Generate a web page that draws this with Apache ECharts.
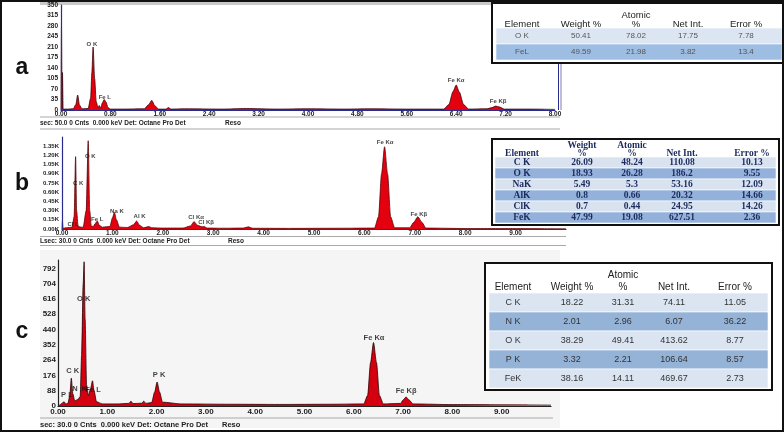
<!DOCTYPE html>
<html><head><meta charset="utf-8">
<script src="https://cdn.jsdelivr.net/npm/echarts@6/dist/echarts.min.js"></script>
<style>html,body{margin:0;padding:0;background:#fff}#chart{width:784px;height:432px}</style>
</head><body><div id="chart"></div>
<script>
// ---------- DATA ----------
// Panel a spectrum: [energy keV, counts]
const spectrumA = [
 [0.00,0],[0.008,280],[0.016,4],[0.024,125],[0.034,3],[0.10,3],[0.20,4],[0.24,18],[0.27,50],[0.30,16],[0.34,4],
 [0.44,5],[0.48,40],[0.50,125],[0.52,210],[0.545,105],[0.57,28],[0.60,8],[0.62,15],[0.645,6],[0.67,24],[0.70,35],[0.73,26],[0.76,8],[0.80,3],
 [1.00,3],[1.35,4],[1.42,18],[1.47,32],[1.52,14],[1.58,3],[1.70,3],[1.74,8],[1.78,3],[2.00,4],[2.60,3],[3.00,5],[3.50,3],[4.00,4],[4.60,3],
 [5.00,4],[5.60,3],[6.00,3],[6.20,3],[6.28,18],[6.35,62],[6.40,83],[6.45,60],[6.52,18],[6.60,3],
 [6.90,4],[6.98,8],[7.04,13],[7.10,10],[7.18,3],[7.60,3],[8.00,2]
];
const peakLabelsA = [['O K',0.50,220],['Fe L',0.71,42],['Fe Kα',6.40,100],['Fe Kβ',7.08,30]];

// Panel b spectrum
const spectrumB = [
 [0.00,0],[0.008,130],[0.02,10],[0.08,20],[0.15,25],[0.20,28],[0.24,200],[0.27,1180],[0.29,300],[0.32,40],[0.38,30],[0.42,30],
 [0.48,300],[0.52,1440],[0.55,300],[0.58,50],[0.62,40],[0.66,90],[0.70,130],[0.74,60],[0.80,30],[0.95,40],[1.00,180],[1.04,270],[1.08,150],[1.14,30],
 [1.30,25],[1.42,70],[1.48,130],[1.54,60],[1.62,20],[1.72,40],[1.78,20],[2.00,15],[2.40,15],[2.55,50],[2.62,120],[2.69,60],[2.78,35],[2.82,40],[2.88,15],
 [3.20,12],[3.60,15],[3.70,35],[3.78,12],[4.50,10],[5.50,12],[6.20,15],[6.28,200],[6.34,900],[6.40,1340],[6.46,900],[6.52,200],[6.60,20],
 [6.90,20],[6.98,110],[7.06,200],[7.14,110],[7.22,15],[8.00,8],[10.00,5]
];
const peakLabelsB = [['O K',0.56,1190],['C K',0.32,750],['Cl L',0.22,82],['Fe L',0.70,165],['Na K',1.09,293],['Al K',1.54,212],
 ['Cl Kα',2.66,196],['Cl Kβ',2.86,114],['Fe Kα',6.41,1420],['Fe Kβ',7.08,245]];

// Panel c spectrum
const spectrumC = [
 [0.00,0],[0.03,5],[0.08,15],[0.12,25],[0.16,12],[0.20,15],[0.24,60],[0.27,160],[0.30,70],[0.34,30],[0.38,35],[0.41,40],[0.45,55],
 [0.48,300],[0.51,700],[0.53,830],[0.55,500],[0.58,120],[0.62,60],[0.66,100],[0.70,145],[0.73,90],[0.78,25],[0.90,12],[1.20,12],
 [1.44,15],[1.48,28],[1.52,14],[1.70,16],[1.74,28],[1.78,15],[1.90,20],[1.96,80],[2.01,138],[2.06,80],[2.12,22],[2.50,12],
 [3.50,10],[4.50,9],[5.50,10],[6.20,12],[6.28,60],[6.34,250],[6.40,365],[6.46,250],[6.52,60],[6.60,12],
 [6.95,15],[7.00,35],[7.06,52],[7.12,35],[7.20,12],[8.00,8],[10.00,5]
];
const peakLabelsC = [['O K',0.52,615],['C K',0.30,201],['N  K',0.44,100],['Fe L',0.71,92],['P L',0.18,63],['P K',2.05,178],['Fe Kα',6.41,391],['Fe Kβ',7.06,86]];

// Tables
const tableAHeader = ['Element','Weight %','Atomic\n%','Net Int.','Error %'];
const tableARows = [['O K','50.41','78.02','17.75','7.78'],['FeL','49.59','21.98','3.82','13.4']];
const tableBHeader = ['Element','Weight\n%','Atomic\n%','Net Int.','Error %'];
const tableBRows = [
 ['C K','26.09','48.24','110.08','10.13'],['O K','18.93','26.28','186.2','9.55'],['NaK','5.49','5.3','53.16','12.09'],
 ['AlK','0.8','0.66','20.32','14.66'],['ClK','0.7','0.44','24.95','14.26'],['FeK','47.99','19.08','627.51','2.36']];
const tableCHeader = ['Element','Weight %','Atomic\n%','Net Int.','Error %'];
const tableCRows = [
 ['C K','18.22','31.31','74.11','11.05'],['N K','2.01','2.96','6.07','36.22'],['O K','38.29','49.41','413.62','8.77'],
 ['P K','3.32','2.21','106.64','8.57'],['FeK','38.16','14.11','469.67','2.73']];

const panelLetters = ['a','b','c'];
const statusA = 'sec: 50.0 0 Cnts  0.000 keV Det: Octane Pro Det';
const statusB = 'Lsec: 30.0 0 Cnts  0.000 keV Det: Octane Pro Det';
const statusC = 'sec: 30.0 0 Cnts  0.000 keV Det: Octane Pro Det';

// ---------- RENDER ----------
const SANS = '"Liberation Sans", Arial, sans-serif';
const SERIF = '"Liberation Serif", "Times New Roman", serif';
const chart = echarts.init(document.getElementById('chart'));

function txt(x, y, s, font, fill, align) {
  return {type:'text', x:x, y:y, z:30, style:{text:s, font:font, fill:fill, align:align||'center', verticalAlign:'middle'}};
}
function table(o, header, rows) {
  const els = [];
  els.push({type:'rect', z:20, shape:{x:o.x, y:o.y, width:o.w, height:o.h}, style:{fill:'#fff', stroke:'#111', lineWidth:o.border}});
  rows.forEach((r, i) => {
    els.push({type:'rect', z:21, shape:{x:o.bx0, y:o.rowTop + i*o.rowH, width:o.bx1-o.bx0, height:o.rowH},
      style:{fill: i%2===0 ? o.light : o.dark, stroke:'#fff', lineWidth:0.6}});
    r.forEach((t, j) => els.push(txt(o.cols[j], o.rowTop + (i+0.5)*o.rowH, t, o.cellFont, o.cellColor)));
  });
  header.forEach((h, j) => {
    const p = h.split('\n');
    if (p.length === 2) { els.push(txt(o.cols[j], o.hy1, p[0], o.headFont, o.headColor)); els.push(txt(o.cols[j], o.hy2, p[1], o.headFont, o.headColor)); }
    else els.push(txt(o.cols[j], o.hy2, h, o.headFont, o.headColor));
  });
  return els;
}

function peakSeries(idx, labels, fontSize) {
  return {type:'scatter', xAxisIndex:idx, yAxisIndex:idx, symbolSize:0, z:6, silent:true,
    data: labels.map(d => ({name:d[0], value:[d[1], d[2]]})),
    label:{show:true, position:'inside', formatter:'{b}', fontSize:fontSize, fontWeight:'bold', color:'#111', fontFamily:SANS}};
}
function specSeries(idx, data, fill, line) {
  return {type:'line', xAxisIndex:idx, yAxisIndex:idx, data:data, showSymbol:false, smooth:0.25, smoothMonotone:'x',
    lineStyle:{color:line, width:0.8}, areaStyle:{color:fill, opacity:1}, z:3, silent:true};
}
function xAx(idx, max, interval, color, fs, margin, showMax) {
  return {gridIndex:idx, type:'value', min:0, max:max, interval:interval, z:5,
    axisLine:{show:true, onZero:false, lineStyle:{color:color, width:1.2}}, axisTick:{show:false}, splitLine:{show:false},
    axisLabel:{formatter:v => v.toFixed(2), fontSize:fs, color:'#222', fontWeight:'bold', fontFamily:SANS, margin:margin, showMaxLabel:showMax, showMinLabel:true}};
}
function yAx(idx, max, interval, color, fs, margin, fmt, showMax) {
  return {gridIndex:idx, type:'value', min:0, max:max, interval:interval, z:5,
    axisLine:{show:true, lineStyle:{color:color, width:1.2}}, axisTick:{show:false}, splitLine:{show:false},
    axisLabel:{formatter:fmt, fontSize:fs, color:'#222', fontWeight:'bold', fontFamily:SANS, margin:margin, showMaxLabel:showMax}};
}

const graphics = [];
// panel backgrounds & rules
graphics.push({type:'rect', z:-1, shape:{x:40, y:2, width:455, height:3}, style:{fill:'#c9c9c9'}});
graphics.push({type:'rect', z:-1, shape:{x:40, y:250, width:520, height:178}, style:{fill:'#f5f5f5'}});
[[117,560],[129,560],[236.5,566],[245.5,566],[418,553]].forEach(l => graphics.push({type:'line', z:1, shape:{x1:40, y1:l[0], x2:l[1], y2:l[0]}, style:{stroke:'#a9a9a9', lineWidth:1}}));
graphics.push({type:'line', z:4, shape:{x1:558.5, y1:5, x2:558.5, y2:110}, style:{stroke:'#2b2b8f', lineWidth:1}});
graphics.push({type:'line', z:4, shape:{x1:561, y1:5, x2:561, y2:110}, style:{stroke:'#7a7ab0', lineWidth:1}});
// status lines
graphics.push(txt(40, 123, statusA, 'bold 6.5px '+SANS, '#222', 'left'));
graphics.push(txt(225, 123, 'Reso', 'bold 6.5px '+SANS, '#222', 'left'));
graphics.push(txt(40, 241, statusB, 'bold 6.5px '+SANS, '#222', 'left'));
graphics.push(txt(228, 241, 'Reso', 'bold 6.5px '+SANS, '#222', 'left'));
graphics.push(txt(40, 425, statusC, 'bold 7.5px '+SANS, '#222', 'left'));
graphics.push(txt(222, 425, 'Reso', 'bold 7.5px '+SANS, '#222', 'left'));
// panel letters
[[22,68],[22,184],[22,332]].forEach((p, i) => graphics.push(txt(p[0], p[1], panelLetters[i], 'bold 23px '+SANS, '#111')));
// tables
graphics.push(...table({x:492, y:3, w:300, h:60, border:2, bx0:496, bx1:782, rowTop:28, rowH:16, hy1:15, hy2:24.5,
  cols:[522,581,636,688,746], light:'#dce6f2', dark:'#9ebde2', headFont:'9.5px '+SANS, headColor:'#222', cellFont:'8px '+SANS, cellColor:'#555'}, tableAHeader, tableARows));
graphics.push(...table({x:492, y:139, w:287, h:86, border:2, bx0:495, bx1:776, rowTop:157, rowH:11, hy1:146, hy2:153.5,
  cols:[522,582,632,682,752], light:'#d9e3f0', dark:'#93b1da', headFont:'bold 9.5px '+SERIF, headColor:'#1c2b5e', cellFont:'bold 9.5px '+SERIF, cellColor:'#1c2b5e'}, tableBHeader, tableBRows));
graphics.push(...table({x:485, y:263, w:287, h:127, border:2, bx0:489, bx1:768, rowTop:293, rowH:19, hy1:275, hy2:287,
  cols:[513,572,623,674,735], light:'#dbe5f1', dark:'#95b3d7', headFont:'10px '+SANS, headColor:'#222', cellFont:'9px '+SANS, cellColor:'#333'}, tableCHeader, tableCRows));
// outer frame
graphics.push({type:'rect', z:40, shape:{x:1, y:1, width:782, height:430}, style:{fill:'none', stroke:'#111', lineWidth:2}});

chart.setOption({
  animation:false,
  backgroundColor:'#fff',
  grid:[
    {left:61, right:229, top:5, bottom:322},
    {left:62, right:218, top:137, bottom:203},
    {left:58, right:233, top:260, bottom:26}
  ],
  xAxis:[
    xAx(0, 8, 0.8, '#2b2b8f', 6.5, 1, true),
    xAx(1, 10, 1, '#2b2b8f', 6.5, 1, false),
    xAx(2, 10, 1, '#222', 8, 2, false)
  ],
  yAxis:[
    yAx(0, 350, 35, '#2b2b8f', 6.5, 3, v => String(v), true),
    yAx(1, 1500, 150, '#2b2b8f', 6, 3, v => (v/1000).toFixed(2)+'K', false),
    yAx(2, 840, 88, '#222', 8, 2, v => String(v), false)
  ],
  series:[
    specSeries(0, spectrumA, '#e3000f', '#3a0606'),
    specSeries(1, spectrumB, '#e3000f', '#5a0808'),
    specSeries(2, spectrumC, '#d40010', '#2a0404'),
    peakSeries(0, peakLabelsA, 6),
    peakSeries(1, peakLabelsB, 6),
    peakSeries(2, peakLabelsC, 7.5)
  ],
  graphic:graphics
});
</script></body></html>
